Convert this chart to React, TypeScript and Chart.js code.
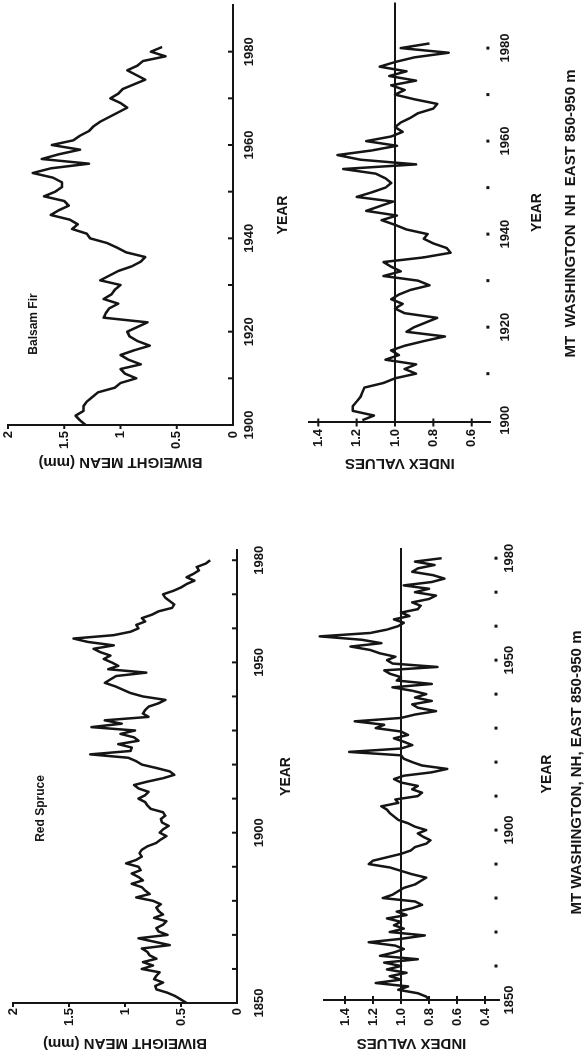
import React, { useEffect, useRef } from "react";
import { Chart, registerables } from "chart.js";

Chart.register(...registerables);

const INK = "#151515";
const FONT_FAMILY = '"Liberation Sans", Arial, Helvetica, sans-serif';

// ---------------- data ----------------
const BF_START = 1900;
const BF_BIWEIGHT = [
  1.31, 1.36, 1.4, 1.33, 1.33, 1.3, 1.25, 1.2, 1.05, 1.0,
  0.86, 0.96, 1.0, 0.82, 0.93, 1.0, 0.88, 0.74, 0.85, 0.92,
  0.94, 0.85, 0.76, 1.15, 1.13, 1.1, 1.02, 1.15, 1.08, 1.05,
  1.0, 1.18, 1.1, 1.02, 0.9, 0.82, 0.78, 0.95, 1.03, 1.12,
  1.27, 1.3, 1.43, 1.38, 1.45, 1.62, 1.55, 1.46, 1.5, 1.68,
  1.58, 1.52, 1.52, 1.6, 1.78, 1.62, 1.28, 1.7, 1.55, 1.36,
  1.61, 1.42, 1.36, 1.28, 1.24, 1.18, 1.1, 1.02, 0.94, 1.0,
  1.09, 1.02, 0.98, 0.88, 0.78, 0.86, 0.94, 0.85, 0.8, 0.6,
  0.73, 0.63,
];
const BF_INDEX = [
  1.17, 1.11, 1.22, 1.22, 1.2, 1.18, 1.17, 1.16, 1.06, 1.0,
  0.89, 0.95, 0.89, 1.05, 0.98, 1.02, 0.95, 0.85, 0.74, 0.94,
  0.9, 0.84, 0.78, 0.95, 1.0, 0.96, 1.02, 0.98, 0.92, 0.82,
  0.88, 1.06, 0.97, 1.02, 1.06, 0.85, 0.71, 0.73, 0.8, 0.85,
  0.83, 0.94, 1.0, 1.07, 0.99, 1.15, 1.08, 1.01, 1.2, 1.12,
  1.05, 1.02, 1.05, 1.1, 1.27, 0.89, 1.18, 1.3, 1.12, 0.99,
  1.15, 1.02, 0.96, 1.0, 0.97, 0.92, 0.88, 0.8, 0.78, 0.9,
  1.0, 0.95, 1.02, 0.89, 1.03, 0.94, 1.08, 1.0, 0.9, 0.72,
  0.97, 0.82,
];
const RS_START = 1850;
const RS_BIWEIGHT = [
  0.45, 0.5, 0.55, 0.62, 0.72, 0.73, 0.66, 0.74, 0.72, 0.69,
  0.85, 0.75, 0.84, 0.72, 0.78, 0.8, 0.85, 0.6, 0.74, 0.88,
  0.62, 0.7, 0.72, 0.66, 0.63, 0.74, 0.66, 0.7, 0.72, 0.68,
  0.75, 0.9, 0.78, 0.82, 0.85, 0.94, 0.84, 0.88, 0.94, 0.86,
  0.88, 0.99, 0.9, 0.85, 0.87, 0.85, 0.8, 0.72, 0.68, 0.63,
  0.69, 0.66, 0.61, 0.67, 0.68, 0.64, 0.66, 0.77, 0.8, 0.82,
  0.88, 0.82, 0.79, 0.88, 0.92, 0.8, 0.66, 0.56, 0.6, 0.72,
  0.85, 0.9, 0.97, 1.31, 0.95, 0.94, 1.06, 0.88, 0.92, 1.04,
  0.91, 1.3, 1.03, 1.18, 0.79, 0.84, 0.82, 0.79, 0.7, 0.64,
  0.84, 0.95, 1.02, 1.09, 1.18, 1.13, 1.08, 0.81, 1.15, 1.06,
  1.12, 1.19, 1.13, 1.22, 1.28, 1.1, 1.33, 1.46, 1.1, 0.95,
  0.88, 0.9, 0.82, 0.85, 0.76, 0.7, 0.58, 0.56, 0.6, 0.64,
  0.66, 0.57, 0.5, 0.45, 0.38, 0.45, 0.39, 0.34, 0.36, 0.28,
  0.24,
];
const RS_INDEX = [
  0.8, 0.82, 0.88, 1.02, 0.95, 1.18, 1.0, 1.08, 0.96, 1.1,
  1.0, 1.12, 0.88, 1.15, 1.05, 0.98, 1.04, 1.23, 1.0, 0.83,
  1.08, 0.98, 1.05, 1.0, 1.1, 0.96, 1.03, 0.92, 0.85, 0.9,
  1.13, 1.06, 1.02, 0.98, 0.9, 0.86, 0.82, 0.92, 1.0, 1.08,
  1.23, 1.2, 1.1, 1.0, 0.93, 0.9, 0.82, 0.79, 0.84, 0.88,
  0.82, 0.9, 0.95, 1.02, 1.05, 1.08, 1.1, 1.14, 1.02, 1.04,
  0.88, 0.85, 0.92, 0.88, 1.0, 1.05, 0.98, 0.78, 0.67, 0.85,
  0.92, 0.98, 1.0, 1.37, 1.0, 0.92, 0.98, 1.05, 0.95, 1.0,
  1.18, 1.12, 1.33, 1.0, 0.9, 0.75, 0.88, 0.92, 0.78, 0.9,
  0.82, 0.92, 1.06, 0.78, 1.03, 1.0, 1.08, 1.12, 0.74, 1.06,
  1.1, 1.04, 1.15, 1.22, 1.36, 1.14, 1.28, 1.58, 1.22, 1.1,
  1.02, 0.98, 1.05, 0.94, 1.0, 0.88, 0.86, 0.92, 0.8, 0.75,
  0.9, 0.8, 0.98, 0.78, 0.69, 0.77, 0.92, 0.88, 0.76, 0.9,
  0.71,
];

const BF_YEAR_TICKS = [1900, 1910, 1920, 1930, 1940, 1950, 1960, 1970, 1980];
const BF_YEAR_LABELS = [1900, 1920, 1940, 1960, 1980];
const RS_YEAR_TICKS = [1850, 1860, 1870, 1880, 1890, 1900, 1910, 1920, 1930, 1940, 1950, 1960, 1970, 1980];
const RS_YEAR_LABELS = [1850, 1900, 1950, 1980];
const BIWEIGHT_TICKS = [0, 0.5, 1, 1.5, 2];
const BF_INDEX_TICKS = [0.6, 0.8, 1.0, 1.2, 1.4];
const RS_INDEX_TICKS = [0.4, 0.6, 0.8, 1.0, 1.2, 1.4];
const INDEX_BASELINE = 1.0;

// ---------------- custom tick marks ----------------
const marksPlugin = {
  id: "marks",
  afterDatasetsDraw(chart: any, _args: any, opts: any) {
    const { ctx, chartArea, scales } = chart;
    const xs = scales.x;
    const ys = scales.y;
    ctx.save();
    ctx.strokeStyle = INK;
    ctx.fillStyle = INK;
    ctx.lineWidth = 2;
    xs.ticks.forEach((t: any, i: number) => {
      if (i === 0) return;
      const px = xs.getPixelForValue(t.value);
      if (opts.xMode === "in") {
        ctx.beginPath();
        ctx.moveTo(px, chartArea.bottom);
        ctx.lineTo(px, chartArea.bottom - 5);
        ctx.stroke();
      } else if (opts.xMode === "dot") {
        ctx.fillRect(px - 1.5, chartArea.bottom - 4.5, 3, 3);
      }
    });
    ys.ticks.forEach((t: any, i: number) => {
      const py = ys.getPixelForValue(t.value);
      if (opts.yMode === "out") {
        if (i === 0) return;
        ctx.beginPath();
        ctx.moveTo(chartArea.left, py);
        ctx.lineTo(chartArea.left - 4, py);
        ctx.stroke();
      } else if (opts.yMode === "cross") {
        ctx.beginPath();
        ctx.moveTo(chartArea.left - 4, py);
        ctx.lineTo(chartArea.left + 4, py);
        ctx.stroke();
      }
    });
    ctx.restore();
  },
};

type Spec = {
  key: string;
  left: number;
  top: number;
  width: number;
  height: number;
  padding: { left: number; top: number; right: number; bottom: number };
  yWidth: number;
  xHeight: number;
  xMin: number;
  xMax: number;
  yMin: number;
  yMax: number;
  start: number;
  values: number[];
  yearTicks: number[];
  yearLabels: number[];
  valueTicks: number[];
  index: boolean;
  yTitle: string;
  yTitlePad: number;
  yTickPad: number;
  xTickPad: number;
  xTitlePad: number;
};

const SPECS: Spec[] = [
  {
    key: "bf-biweight",
    left: 560, top: -20, width: 499, height: 320,
    padding: { left: 0, top: 28, right: 5, bottom: 0 },
    yWidth: 74, xHeight: 67,
    xMin: 1900, xMax: 1990, yMin: 0, yMax: 2,
    start: BF_START, values: BF_BIWEIGHT,
    yearTicks: BF_YEAR_TICKS, yearLabels: BF_YEAR_LABELS, valueTicks: BIWEIGHT_TICKS,
    index: false, yTitle: "BIWEIGHT MEAN (mm)",
    yTitlePad: 28, yTickPad: 6, xTickPad: 9, xTitlePad: 8.6,
  },
  {
    key: "bf-index",
    left: 560, top: 290, width: 499, height: 294,
    padding: { left: 0, top: 18.7, right: 2.5, bottom: 0 },
    yWidth: 76.5, xHeight: 93.1,
    xMin: 1899.5, xMax: 1989.8, yMin: 0.5, yMax: 1.45,
    start: BF_START, values: BF_INDEX,
    yearTicks: BF_YEAR_TICKS, yearLabels: BF_YEAR_LABELS, valueTicks: BF_INDEX_TICKS,
    index: true, yTitle: "INDEX VALUES",
    yTitlePad: 27, yTickPad: 6.5, xTickPad: 6.3, xTitlePad: 38.6,
  },
  {
    key: "rs-biweight",
    left: 0, top: -20, width: 530, height: 320,
    padding: { left: 0, top: 33, right: 21, bottom: 0 },
    yWidth: 56, xHeight: 63,
    xMin: 1850, xMax: 1983, yMin: 0, yMax: 2,
    start: RS_START, values: RS_BIWEIGHT,
    yearTicks: RS_YEAR_TICKS, yearLabels: RS_YEAR_LABELS, valueTicks: BIWEIGHT_TICKS,
    index: false, yTitle: "BIWEIGHT MEAN (mm)",
    yTitlePad: 7, yTickPad: 5, xTickPad: 14.7, xTitlePad: 5.6,
  },
  {
    key: "rs-index",
    left: 0, top: 300, width: 530, height: 284,
    padding: { left: 0, top: 24, right: 19, bottom: 0 },
    yWidth: 59, xHeight: 85,
    xMin: 1850, xMax: 1983, yMin: 0.3, yMax: 1.55,
    start: RS_START, values: RS_INDEX,
    yearTicks: RS_YEAR_TICKS, yearLabels: RS_YEAR_LABELS, valueTicks: RS_INDEX_TICKS,
    index: true, yTitle: "INDEX VALUES",
    yTitlePad: 7, yTickPad: 8, xTickPad: 2.2, xTitlePad: 28.6,
  },
];

const LABELS = [
  { text: "Balsam Fir", x: 735, y: 33, size: 12 },
  { text: "Red Spruce", x: 250.5, y: 40, size: 12 },
  { text: "MT  WASHINGTON  NH  EAST 850-950 m", x: 845.5, y: 569, size: 15 },
  { text: "MT WASHINGTON, NH, EAST 850-950 m", x: 286.5, y: 575, size: 15 },
];

function PanelChart({ spec }: { spec: Spec }) {
  const ref = useRef<HTMLCanvasElement | null>(null);

  useEffect(() => {
    if (!ref.current) return;
    const tickFont = { family: FONT_FAMILY, size: 13, weight: "bold" as const };
    const datasets: any[] = [];
    if (spec.index) {
      datasets.push({
        data: [
          { x: spec.xMin, y: INDEX_BASELINE },
          { x: spec.xMax, y: INDEX_BASELINE },
        ],
        borderColor: INK,
        borderWidth: 2,
        pointRadius: 0,
        clip: false,
      });
    }
    datasets.push({
      data: spec.values.map((v, i) => ({ x: spec.start + i, y: v })),
      borderColor: INK,
      borderWidth: 2.5,
      pointRadius: 0,
      tension: 0,
      borderJoinStyle: "round",
      clip: false,
    });

    const chart = new Chart(ref.current, {
      type: "line",
      data: { datasets },
      plugins: [marksPlugin as any],
      options: {
        responsive: false,
        animation: false,
        devicePixelRatio: 1,
        events: [],
        layout: { padding: spec.padding },
        plugins: {
          legend: { display: false },
          tooltip: { enabled: false },
          marks: { xMode: spec.index ? "dot" : "in", yMode: spec.index ? "cross" : "out" },
        } as any,
        scales: {
          x: {
            type: "linear",
            min: spec.xMin,
            max: spec.xMax,
            afterBuildTicks: (ax: any) => {
              ax.ticks = spec.yearTicks.map((v) => ({ value: v }));
            },
            afterFit: (s: any) => {
              s.height = spec.xHeight;
            },
            grid: { display: false, drawTicks: false },
            border: { display: !spec.index, color: INK, width: 2 },
            ticks: {
              autoSkip: false,
              maxRotation: 0,
              minRotation: 0,
              padding: spec.xTickPad,
              color: INK,
              font: tickFont,
              callback: (v: any) => (spec.yearLabels.includes(Number(v)) ? String(v) : ""),
            },
            title: {
              display: true,
              text: "YEAR",
              color: INK,
              font: { family: FONT_FAMILY, size: 14, weight: "bold" },
              padding: { top: 0, bottom: spec.xTitlePad },
            },
          },
          y: {
            type: "linear",
            min: spec.yMin,
            max: spec.yMax,
            afterBuildTicks: (ax: any) => {
              ax.ticks = spec.valueTicks.map((v) => ({ value: v }));
            },
            afterFit: (s: any) => {
              s.width = spec.yWidth;
            },
            grid: { display: false, drawTicks: false },
            border: { display: true, color: INK, width: 2 },
            ticks: {
              padding: spec.yTickPad,
              color: INK,
              font: tickFont,
              callback: (v: any) => (spec.index ? Number(v).toFixed(1) : String(v)),
            },
            title: {
              display: true,
              text: spec.yTitle,
              color: INK,
              font: { family: FONT_FAMILY, size: 15, weight: "bold" },
              padding: { top: spec.yTitlePad, bottom: 0 },
            },
          },
        },
      } as any,
    });
    return () => chart.destroy();
  }, [spec]);

  return (
    <canvas
      ref={ref}
      width={spec.width}
      height={spec.height}
      style={{
        position: "absolute",
        left: spec.left,
        top: spec.top,
        width: spec.width,
        height: spec.height,
      }}
    />
  );
}

export default function App() {
  return (
    <div
      style={{
        position: "fixed",
        left: 0,
        top: 0,
        width: 584,
        height: 1059,
        overflow: "hidden",
        background: "#fff",
      }}
    >
      <div
        style={{
          position: "absolute",
          left: 0,
          top: 0,
          width: 1059,
          height: 584,
          transformOrigin: "0 0",
          transform: "translate(0px, 1059px) rotate(-90deg)",
        }}
      >
        {SPECS.map((s) => (
          <PanelChart key={s.key} spec={s} />
        ))}
        {LABELS.map((l) => (
          <div
            key={l.text}
            style={{
              position: "absolute",
              left: l.x,
              top: l.y,
              transform: "translate(-50%, -50%)",
              fontFamily: FONT_FAMILY,
              fontWeight: "bold",
              fontSize: l.size,
              lineHeight: 1,
              whiteSpace: "pre",
              color: INK,
            }}
          >
            {l.text}
          </div>
        ))}
      </div>
    </div>
  );
}
